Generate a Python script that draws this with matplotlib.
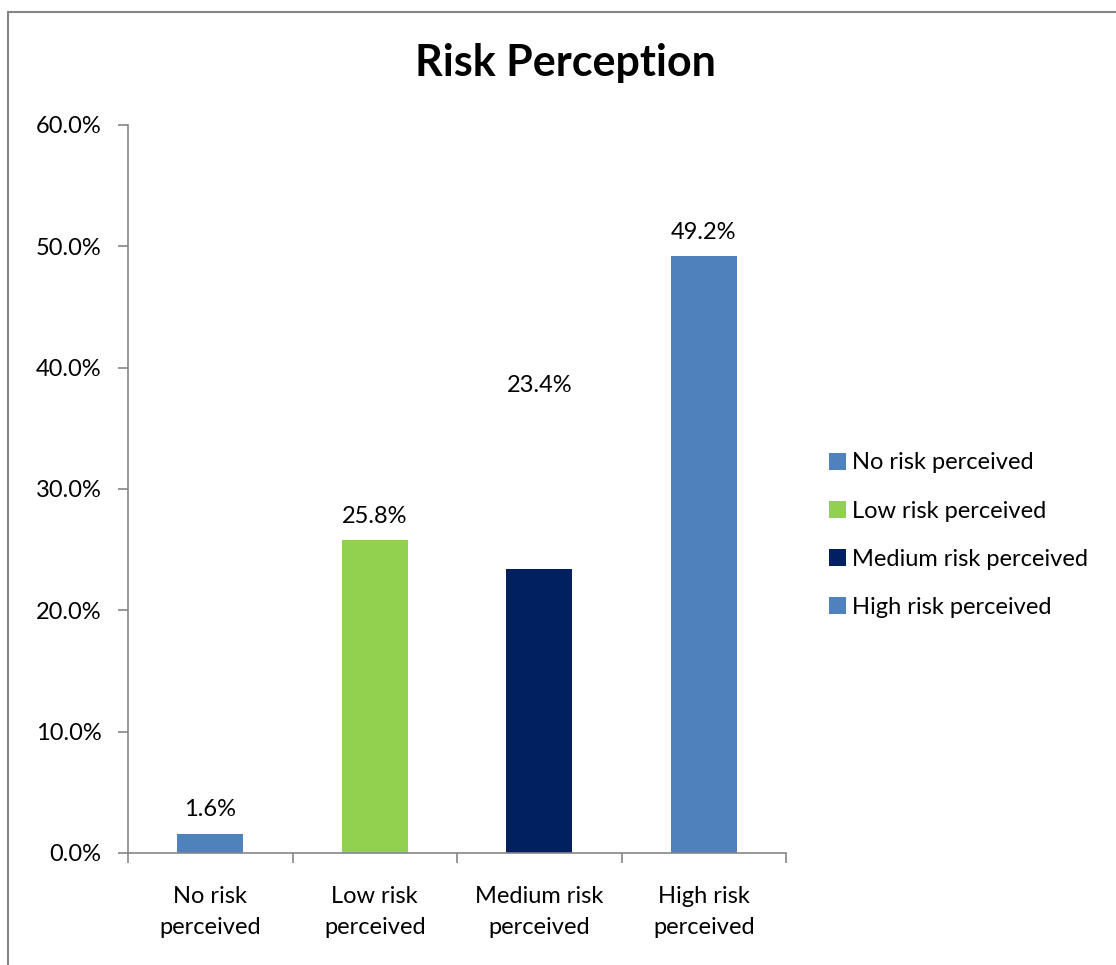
import matplotlib.pyplot as plt
from matplotlib.patches import Rectangle

categories = ['No risk\nperceived', 'Low risk\nperceived', 'Medium risk\nperceived', 'High risk\nperceived']
legend_labels = ['No risk perceived', 'Low risk perceived', 'Medium risk perceived', 'High risk perceived']
values = [1.6, 25.8, 23.4, 49.2]
colors = ['#4F81BD', '#92D050', '#002060', '#4F81BD']

plt.rcParams['font.family'] = ['Lato', 'DejaVu Sans']
fs = 17

fig = plt.figure(figsize=(11.16, 9.65), dpi=100)
ax = fig.add_axes([0.1147, 0.1161, 0.5896, 0.7544])

x = range(len(values))
bars = ax.bar(x, values, width=0.4, color=colors)

# data labels (the medium one floats above its bar in the original)
for i, v in enumerate(values):
    y = v + 1.1
    if i == 2:
        y = 37.7
    ax.text(i, y, f'{v:.1f}%', ha='center', va='bottom', fontsize=fs)

ax.set_xlim(-0.5, 3.5)
ax.set_ylim(0, 60)
ax.set_yticks(range(0, 61, 10))
ax.set_yticklabels([f'{t:.1f}%' for t in range(0, 61, 10)], fontsize=fs)
ax.set_xticks(list(x))
ax.set_xticklabels(categories, fontsize=fs, linespacing=1.6)
ax.set_xticks([-0.5, 0.5, 1.5, 2.5, 3.5], minor=True)
ax.tick_params(axis='x', which='major', length=0, pad=24)
ax.tick_params(axis='x', which='minor', length=7, color='#868686', width=1.2)
ax.tick_params(axis='y', length=7, color='#868686', width=1.2, pad=12)

for s in ['top', 'right']:
    ax.spines[s].set_visible(False)
for s in ['left', 'bottom']:
    ax.spines[s].set_color('#868686')
    ax.spines[s].set_linewidth(1.2)

fig.text(0.507, 0.935, 'Risk Perception', ha='center', va='center', fontsize=31, fontweight='bold')

ax.legend(bars, legend_labels, loc='center left', bbox_to_anchor=(0.732, 0.4455),
          bbox_transform=fig.transFigure, frameon=False, fontsize=fs,
          handlelength=0.72, handleheight=0.72, handletextpad=0.25, labelspacing=1.15,
          borderpad=0)

# outer chart border
fig.patches.append(Rectangle((8 / 1116, -0.05), 1.2, (965 - 12) / 965 + 0.05,
                             transform=fig.transFigure, fill=False,
                             edgecolor='#868686', linewidth=1.5))

fig.savefig('out.png', dpi=100)
